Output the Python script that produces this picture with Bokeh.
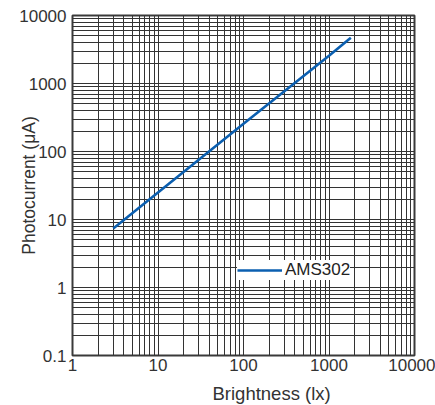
from bokeh.plotting import figure
from bokeh.models import FixedTicker, Legend, LegendItem, Title
from bokeh.embed import file_html
from bokeh.resources import INLINE

# ---- data ----
brightness_lx = [3, 10, 100, 1000, 1800]
photocurrent_uA = [7.4, 25, 255, 2550, 4700]
series_name = "AMS302"

x_ticks = [1, 10, 100, 1000, 10000]
y_ticks = [0.1, 1, 10, 100, 1000, 10000]
x_tick_labels = ["1", "10", "100", "1000", "10000"]
y_tick_labels = ["0.1", "1", "10", "100", "1000", "10000"]
x_label = "Brightness (lx)"
y_label = "Photocurrent (μA)"

minor_x = [m * 10 ** k for k in range(0, 4) for m in range(2, 10)]
minor_y = [m * 10.0 ** k for k in range(-1, 4) for m in range(2, 10)]

FONT = "Liberation Sans"
TXT = "#333333"
GRID = "#333333"

# frame geometry (pixels)
FL, FT, FW, FH = 72, 15, 342, 340
W, H = 435, 405

p = figure(x_axis_type="log", y_axis_type="log",
           x_range=(1, 10000), y_range=(0.1, 10000),
           frame_width=FW, frame_height=FH,
           min_border_left=FL, min_border_right=W - FL - FW,
           min_border_top=FT, min_border_bottom=H - FT - FH,
           output_backend="svg", toolbar_location=None)

xt = FixedTicker(ticks=x_ticks, minor_ticks=minor_x)
yt = FixedTicker(ticks=y_ticks, minor_ticks=minor_y)
p.xaxis.ticker = xt
p.yaxis.ticker = yt
p.xgrid.ticker = xt
p.ygrid.ticker = yt

p.xaxis.major_label_overrides = {v: s for v, s in zip(x_ticks, x_tick_labels)}
p.yaxis.major_label_overrides = {v: s for v, s in zip(y_ticks, y_tick_labels)}

for ax in (p.xaxis[0], p.yaxis[0]):
    ax.axis_line_color = None
    ax.major_tick_line_color = None
    ax.minor_tick_line_color = None
    ax.major_tick_out = 0
    ax.major_tick_in = 0
    ax.minor_tick_out = 0
    ax.minor_tick_in = 0
    ax.major_label_text_font = FONT
    ax.major_label_text_font_size = "17px"
    ax.major_label_text_color = TXT
p.xaxis.major_label_standoff = 3
p.yaxis.major_label_standoff = 6

# y title as the axis label, pulled in over the tick-label column
yax = p.yaxis[0]
yax.axis_label = y_label
yax.axis_label_text_font = FONT
yax.axis_label_text_font_size = "17.5px"
yax.axis_label_text_font_style = "normal"
yax.axis_label_text_color = TXT
yax.axis_label_standoff = -23

# x title as a left-aligned title below the axis
p.add_layout(Title(text=x_label, align="left", offset=140, standoff=14,
                   text_font=FONT, text_font_size="18.5px",
                   text_font_style="normal", text_color=TXT), "below")

for g in (p.xgrid[0], p.ygrid[0]):
    g.grid_line_color = GRID
    g.grid_line_width = 1
    g.grid_line_alpha = 1
    g.minor_grid_line_color = GRID
    g.minor_grid_line_width = 1
    g.minor_grid_line_alpha = 1

p.outline_line_color = "#3a3a3a"
p.outline_line_width = 2
p.background_fill_color = "white"
p.border_fill_color = "white"

r = p.line(brightness_lx, photocurrent_uA, line_color="#0b5fb0", line_width=2.6)

legend = Legend(items=[LegendItem(label=series_name, renderers=[r])],
                location=(165, 75), margin=0, padding=4, spacing=0,
                background_fill_color="white", background_fill_alpha=1,
                border_line_color=None,
                glyph_width=45, glyph_height=12, label_height=12,
                label_standoff=3,
                label_text_font=FONT, label_text_font_size="17px",
                label_text_color="#222222")
p.add_layout(legend)

open("out.html", "w").write(file_html(p, INLINE))
